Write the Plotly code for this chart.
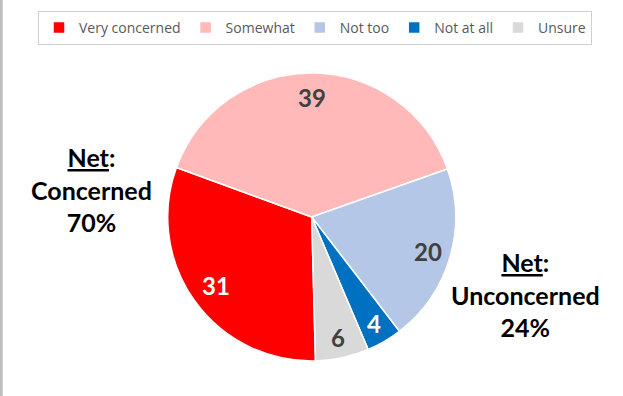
import math
import plotly.graph_objects as go

categories = ["Very concerned", "Somewhat", "Not too", "Not at all", "Unsure"]
values = [31, 39, 20, 4, 6]
colors = ["#FF0000", "#FFB9B9", "#B4C7E7", "#0070C0", "#D9D9D9"]
text_colors = ["#FFFFFF", "#404040", "#404040", "#FFFFFF", "#404040"]

W, H = 623, 396
cx, cy, r = 311.7, 217.0, 144.0
rotation = 178.5
label_frac = [0.82, 0.83, 0.84, 0.86, 0.86]

fig = go.Figure()
fig.add_trace(go.Pie(
    labels=categories,
    values=values,
    sort=False,
    direction="clockwise",
    rotation=rotation,
    marker=dict(colors=colors, line=dict(color="#FFFFFF", width=1.5)),
    textinfo="none",
    hoverinfo="label+value",
    domain=dict(x=[(cx - r) / W, (cx + r) / W], y=[(H - cy - r) / H, (H - cy + r) / H]),
))

# value labels placed along each slice's mid-angle, derived from the data
total = sum(values)
cum = 0
for v, tc, f in zip(values, text_colors, label_frac):
    mid = math.radians(rotation + 360 * (cum + v / 2) / total)
    cum += v
    px = cx + f * r * math.sin(mid)
    py = cy - f * r * math.cos(mid)
    fig.add_annotation(x=px / W, y=1 - py / H, xref="paper", yref="paper",
                       text=f"<b>{v}</b>", showarrow=False,
                       xanchor="center", yanchor="middle",
                       font=dict(family="Lato", size=24, color=tc))

fig.add_annotation(x=91 / W, y=1 - 189 / H, xref="paper", yref="paper",
                   text="<b><u>Net</u>:</b><br><b>Concerned</b><br><b>70%</b>",
                   showarrow=False, align="center", xanchor="center", yanchor="middle",
                   font=dict(family="Lato", size=25, color="#000000"))
fig.add_annotation(x=525 / W, y=1 - 294 / H, xref="paper", yref="paper",
                   text="<b><u>Net</u>:</b><br><b>Unconcerned</b><br><b>24%</b>",
                   showarrow=False, align="center", xanchor="center", yanchor="middle",
                   font=dict(family="Lato", size=25, color="#000000"))

fig.add_shape(type="line", xref="paper", yref="paper", x0=0.002, x1=0.002, y0=0, y1=1,
              line=dict(color="#BFBFBF", width=3))

fig.update_layout(
    width=W, height=H,
    margin=dict(l=0, r=0, t=0, b=0),
    paper_bgcolor="#FFFFFF",
    plot_bgcolor="#FFFFFF",
    showlegend=True,
    legend=dict(orientation="h", x=315 / W, xanchor="center", y=1 - 11 / H, yanchor="top",
                bordercolor="#D0D0D0", borderwidth=1,
                font=dict(family="Open Sans", size=14, color="#595959"),
                itemwidth=30, tracegroupgap=0),
)

fig.write_html("out.html")
